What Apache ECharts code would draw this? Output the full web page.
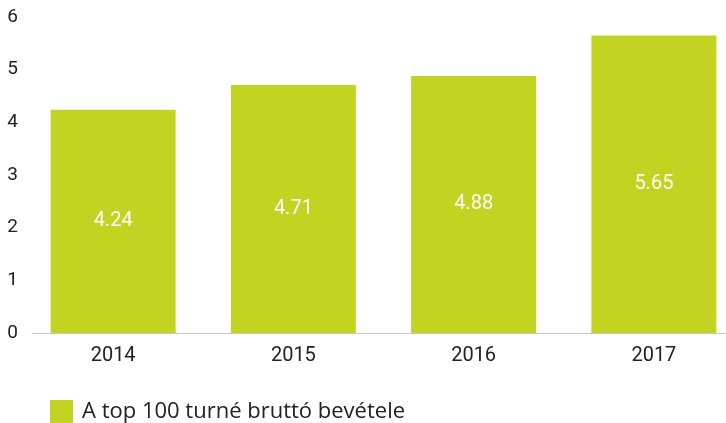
<!DOCTYPE html>
<html>
<head>
<meta charset="utf-8">
<script src="https://cdn.jsdelivr.net/npm/echarts@6/dist/echarts.min.js"></script>
<style>
    html, body {margin: 0; padding: 0; background: #fff;}
    #chart {width: 726px; height: 423px;}
</style>
</head>
<body>
<div id="chart"></div>
<script>
const years = ['2014', '2015', '2016', '2017'];
const grossValues = [4.24, 4.71, 4.88, 5.65];
const seriesName = 'A top 100 turné bruttó bevétele';

const font = 'Roboto, "DejaVu Sans", sans-serif';
const chart = echarts.init(document.getElementById('chart'));
chart.setOption({
    animation: false,
    grid: [{
        left: 23,
        width: 721,
        top: 17,
        bottom: 90,
        outerBoundsMode: 'none'
    }, {
        // only carries the baseline, which starts a little right of the bars' grid
        left: 32,
        right: 0,
        top: 17,
        bottom: 90,
        outerBoundsMode: 'none'
    }],
    legend: {
        data: [seriesName],
        left: 50,
        bottom: 0,
        padding: 0,
        itemWidth: 23,
        itemHeight: 23,
        itemGap: 10,
        icon: 'rect',
        textStyle: {color: '#222', fontSize: 22, fontFamily: '"Open Sans", Roboto, sans-serif', padding: [0, 0, 0, 4]}
    },
    xAxis: [{
        type: 'category',
        gridIndex: 0,
        data: years,
        axisTick: {show: false},
        axisLine: {show: false},
        axisLabel: {color: '#222', fontSize: 20, fontFamily: font, margin: 13}
    }, {
        type: 'category',
        gridIndex: 1,
        data: [],
        axisTick: {show: false},
        axisLabel: {show: false},
        axisLine: {lineStyle: {color: '#c8c8c8', width: 1}}
    }],
    yAxis: [{
        type: 'value',
        gridIndex: 0,
        min: 0,
        max: 6,
        interval: 1,
        splitLine: {show: false},
        axisLine: {show: false},
        axisTick: {show: false},
        axisLabel: {color: '#222', fontSize: 19, fontFamily: font, margin: 5, align: 'right'}
    }, {
        type: 'value',
        gridIndex: 1,
        min: 0,
        max: 6,
        show: false
    }],
    series: [{
        name: seriesName,
        type: 'bar',
        data: grossValues,
        barWidth: 125,
        itemStyle: {color: '#c2d322'},
        label: {
            show: true,
            position: 'inside',
            color: '#fff',
            fontSize: 20,
            fontFamily: font,
            formatter: p => p.value.toFixed(2)
        }
    }]
});
</script>
</body>
</html>
